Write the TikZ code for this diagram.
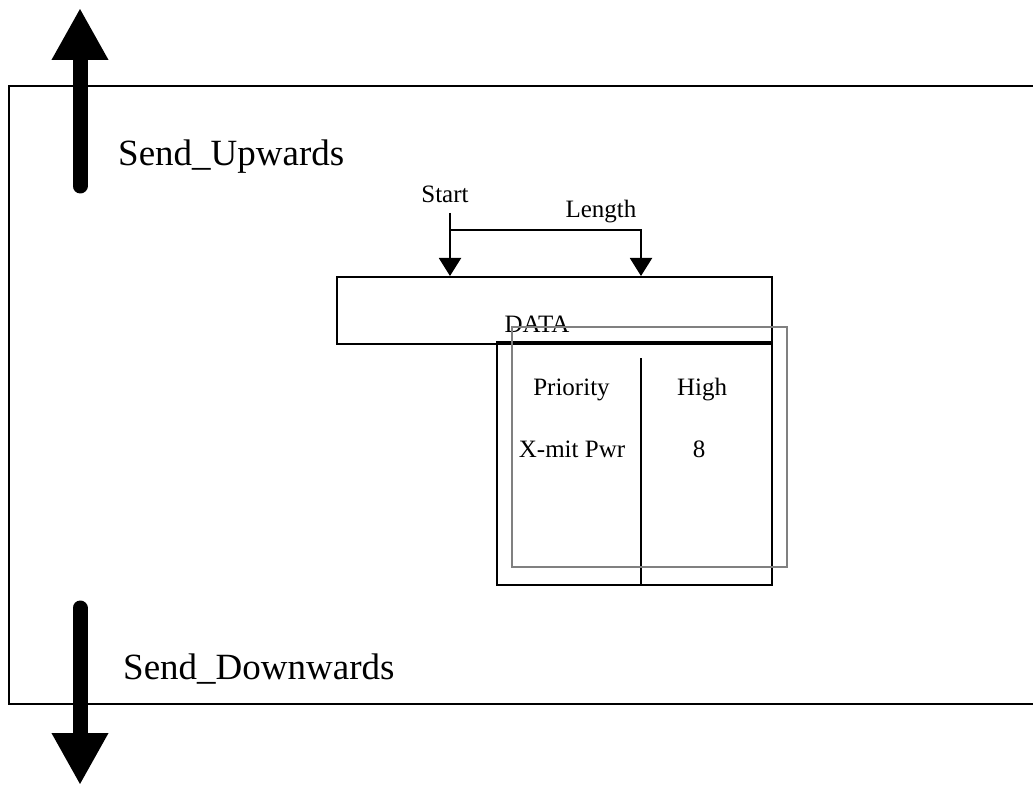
\documentclass[tikz,border=0pt]{standalone}
\usepackage{fontspec}
\setmainfont{Liberation Serif}
\usetikzlibrary{arrows.meta}
\begin{document}
\begin{tikzpicture}[x=1pt,y=-1pt,
  frame/.style={line width=2pt},
  bigarrow/.style={line width=15pt,line cap=round,-{Triangle[width=53pt,length=52pt]}},
  ptr/.style={line width=2pt,-{Triangle[width=22pt,length=18pt]}},
  bigtxt/.style={font=\fontsize{37}{40}\selectfont,anchor=base west,inner sep=0pt},
  smalltxt/.style={font=\fontsize{25}{28}\selectfont,anchor=base,inner sep=0pt},
  graybox/.style={draw=black!50,line width=2pt}]
\useasboundingbox (0,0) rectangle (1033,786);
% outer frame (right side beyond page)
\draw[frame] (1040,86) -- (9,86) -- (9,704) -- (1040,704);
% big arrows
\coordinate (upfrom) at (80,186);
\coordinate (upto) at (80,8);
\coordinate (dnfrom) at (80,608);
\coordinate (dnto) at (80,785);
\draw[bigarrow] (upfrom) -- (upto);
\draw[bigarrow] (dnfrom) -- (dnto);
\node[bigtxt] (up) at (118,166) {Send\_Upwards};
\node[bigtxt] (down) at (123,679) {Send\_Downwards};
% data box
\node[draw,line width=2pt,minimum width=435pt,minimum height=67pt,inner sep=0pt] (data) at (554.5,310.5) {};
\node[smalltxt] (datatxt) at (537,332) {DATA};
% table box
\node[draw,line width=2pt,minimum width=275pt,minimum height=241pt,inner sep=0pt] (table) at (634.5,464.5) {};
\draw[line width=3.5pt] (table.north west) -- (table.north east);
\coordinate (divtop) at (641,358);
\draw[line width=2pt] (divtop) -- (divtop |- table.south);
% gray box
\node[graybox,minimum width=275pt,minimum height=240pt,inner sep=0pt] (gray) at (649.5,447) {};
% table texts
\node[smalltxt] (prio) at (571.5,395) {Priority};
\node[smalltxt] (high) at (702,395) {High};
\node[smalltxt] (xmit) at (572,457) {X-mit Pwr};
\node[smalltxt] (eight) at (699,457) {8};
% start / length pointers
\node[smalltxt] (start) at (445,203) {Start};
\node[smalltxt] (length) at (601,218) {Length};
\coordinate (s0) at (450,213);
\coordinate (l0) at (450,230);
\coordinate (l1) at (641,230);
\draw[ptr] (s0) -- (s0 |- data.north);
\draw[ptr] (l0) -- (l1) -- (l1 |- data.north);
\end{tikzpicture}
\end{document}
